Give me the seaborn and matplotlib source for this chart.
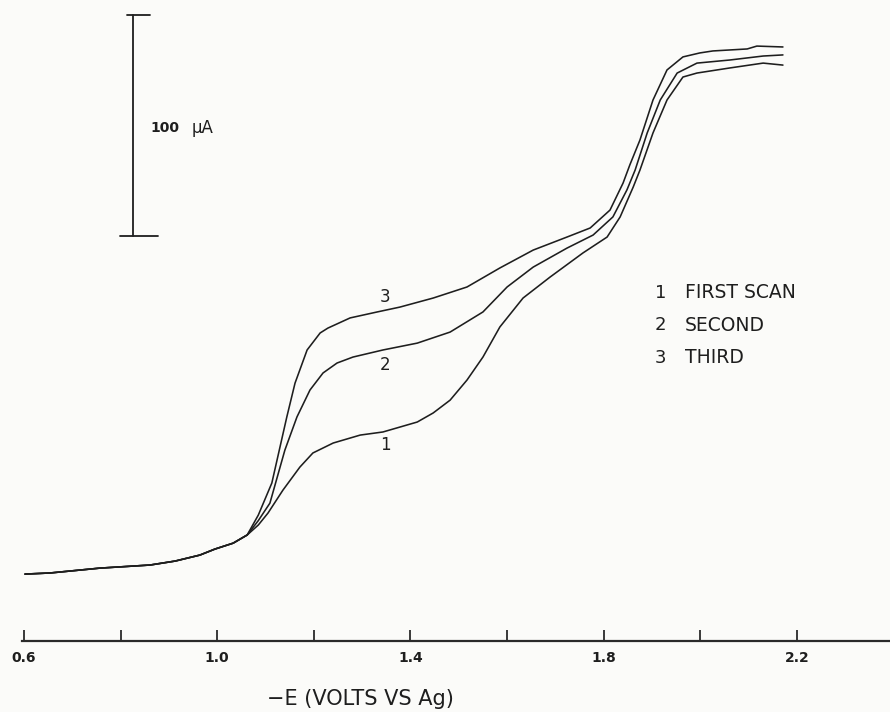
import numpy as np
import pandas as pd
import matplotlib
matplotlib.use("Agg")
import matplotlib.pyplot as plt
import seaborn as sns

# ---- data (potential -E in volts vs Ag, current in microamps) ----
common_v = [0.602, 0.654, 0.757, 0.861, 0.913, 0.964, 0.995, 1.033, 1.062]
common_i = [30.3, 30.8, 33.0, 34.4, 36.2, 38.9, 41.6, 44.3, 48.0]

scan1_v = [1.085, 1.105, 1.136, 1.171, 1.198, 1.240, 1.296, 1.343, 1.414, 1.447, 1.482,
           1.517, 1.550, 1.585, 1.633, 1.689, 1.757, 1.807, 1.834, 1.861, 1.875,
           1.902, 1.931, 1.964, 1.993, 2.061, 2.130, 2.171]
scan1_i = [52.5, 57.9, 68.3, 78.7, 85.1, 89.6, 93.2, 94.6, 99.1, 103.2, 109.0,
           118.1, 128.5, 142.1, 155.2, 164.7, 175.6, 182.8, 191.9, 205.4, 213.1,
           229.9, 244.8, 255.2, 257.0, 259.3, 261.5, 260.6]

scan2_v = [1.085, 1.109, 1.140, 1.165, 1.192, 1.219, 1.248, 1.281, 1.343, 1.414, 1.482,
           1.550, 1.600, 1.654, 1.724, 1.778, 1.819, 1.848, 1.865, 1.890, 1.917,
           1.952, 1.993, 2.061, 2.130, 2.171]
scan2_i = [54.5, 62.4, 86.4, 101.4, 113.6, 121.3, 125.8, 128.5, 131.7, 134.8, 139.8,
           148.9, 160.2, 169.2, 177.8, 183.7, 191.9, 204.1, 213.1, 229.9, 244.8,
           257.0, 261.5, 262.9, 264.7, 265.2]

scan3_v = [1.085, 1.113, 1.144, 1.161, 1.186, 1.213, 1.229, 1.275, 1.331, 1.378, 1.447,
           1.517, 1.585, 1.654, 1.724, 1.772, 1.813, 1.840, 1.854, 1.875, 1.902,
           1.931, 1.964, 1.999, 2.026, 2.097, 2.117, 2.171]
scan3_i = [57.0, 71.5, 101.4, 116.7, 131.7, 139.4, 141.6, 146.2, 148.9, 151.1, 155.2,
           160.2, 168.8, 176.9, 182.8, 186.9, 195.0, 207.2, 215.4, 226.7, 244.8,
           258.4, 264.3, 266.1, 267.0, 267.9, 269.2, 268.8]

scan_names = ["1", "2", "3"]
legend_numbers = ["1", "2", "3"]
legend_words = ["FIRST SCAN", "SECOND", "THIRD"]
tick_values = [0.6, 0.8, 1.0, 1.2, 1.4, 1.6, 1.8, 2.0, 2.2]
tick_labels = ["0.6", "", "1.0", "", "1.4", "", "1.8", "", "2.2"]
scale_bar_ua = 100

rows = []
for name, vs, cs in zip(scan_names, [scan1_v, scan2_v, scan3_v],
                        [scan1_i, scan2_i, scan3_i]):
    for v, c in zip(common_v + vs, common_i + cs):
        rows.append({"scan": name, "V": v, "I": c})
df = pd.DataFrame(rows)

sns.set_theme(style="white")
plt.rcParams["font.family"] = ["DejaVu Sans"]

ink = "#1e1e1e"
fig = plt.figure(figsize=(8.9, 7.12), dpi=100)
fig.patch.set_facecolor("#fbfbf9")
ax = fig.add_axes([0, 0, 1, 1])
ax.set_facecolor("#fbfbf9")

sns.lineplot(data=df, x="V", y="I", hue="scan", units="scan", estimator=None,
             sort=False, palette=[ink, ink, ink], linewidth=1.15,
             legend=False, ax=ax)

ax.set_xlim(0.5503, 2.3926)
ax.set_ylim(-32.1, 290.05)

for s in ["top", "right", "left"]:
    ax.spines[s].set_visible(False)
ax.spines["bottom"].set_position(("data", 0))
ax.spines["bottom"].set_bounds(0.595, 2.3926)
ax.spines["bottom"].set_linewidth(1.6)
ax.spines["bottom"].set_color("#2a2a2a")

ax.set_xticks(tick_values)
ax.set_xticklabels(tick_labels)
ax.tick_params(axis="x", bottom=True, direction="in", length=8, width=1.3,
               color="#2a2a2a", pad=7, labelsize=10, labelcolor=ink)
for lbl in ax.get_xticklabels():
    lbl.set_fontweight("bold")
ax.set_yticks([])
ax.set_xlabel("")
ax.set_ylabel("")

ax.text(1.296, -26.2, "\u2212E (VOLTS VS Ag)", ha="center", va="center",
        fontsize=15, color=ink)

# scale bar (100 uA)
bar_x = 0.8256
bar_bottom = 183.3
ax.plot([bar_x, bar_x], [bar_bottom, bar_bottom + scale_bar_ua], color=ink, lw=1.3)
ax.plot([0.8132, 0.8608], [bar_bottom + scale_bar_ua] * 2, color=ink, lw=1.3)
ax.plot([0.7987, 0.8774], [bar_bottom, bar_bottom], color=ink, lw=1.3)
ax.text(0.8608, 232.1, str(scale_bar_ua), ha="left", va="center",
        fontsize=10, fontweight="bold", color=ink)
ax.text(0.9478, 232.1, "\u03bcA", ha="left", va="center", fontsize=12, color=ink)

# curve labels
ax.text(1.349, 88.7, "1", ha="center", va="center", fontsize=12, color=ink)
ax.text(1.347, 124.9, "2", ha="center", va="center", fontsize=12, color=ink)
ax.text(1.347, 155.7, "3", ha="center", va="center", fontsize=12, color=ink)

# legend text
for num, word, yv in zip(legend_numbers, legend_words, [157.5, 143.0, 128.1]):
    ax.text(1.906, yv, num, ha="left", va="center", fontsize=13, color=ink)
    ax.text(1.968, yv, word, ha="left", va="center", fontsize=13.5, color=ink)

fig.savefig("out.png", dpi=100, facecolor=fig.get_facecolor())
